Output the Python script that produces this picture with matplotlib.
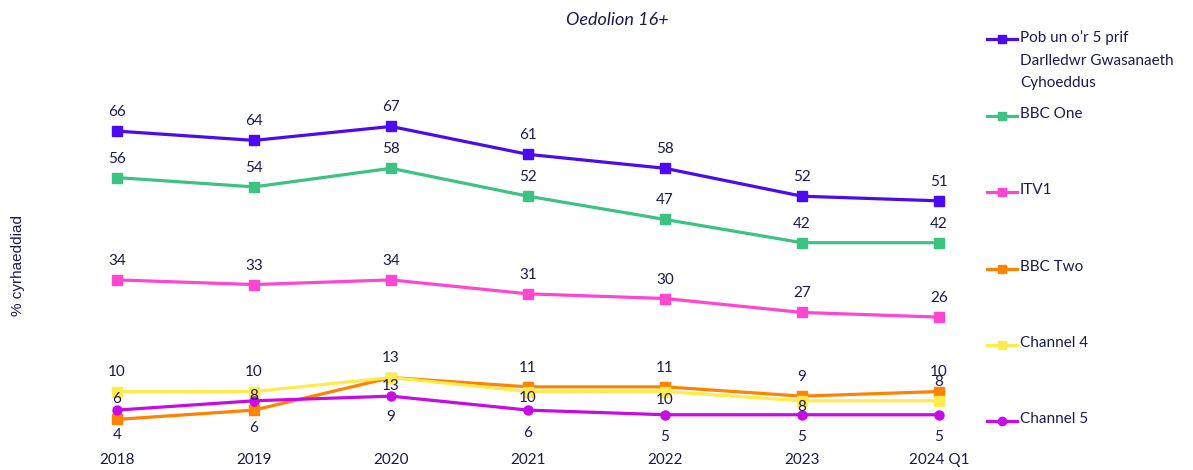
import matplotlib.pyplot as plt
from matplotlib.lines import Line2D

years = ["2018", "2019", "2020", "2021", "2022", "2023", "2024 Q1"]
names = ["Pob un o\u2019r 5 prif\nDarlledwr Gwasanaeth\nCyhoeddus", "BBC One", "ITV1",
         "BBC Two", "Channel 4", "Channel 5"]
pob_un = [66, 64, 67, 61, 58, 52, 51]
bbc_one = [56, 54, 58, 52, 47, 42, 42]
itv1 = [34, 33, 34, 31, 30, 27, 26]
bbc_two = [4, 6, 13, 11, 11, 9, 10]
channel4 = [10, 10, 13, 10, 10, 8, 8]
channel5 = [6, 8, 9, 6, 5, 5, 5]

series = [pob_un, bbc_one, itv1, bbc_two, channel4, channel5]
colors = ["#4B0AF0", "#3CC382", "#FF46D2", "#FF8200", "#FFEB4B", "#C80AE6"]
markers = ["s", "s", "s", "s", "s", "o"]
# label offsets in pixels (positive = above the point)
offsets = [
    [19] * 7,
    [19] * 7,
    [19] * 7,
    [-16, -18, 20, 19, 19, 19, 19],
    [20, 20, -8, -6, -8, -6, 19],
    [11, 5, -21, -23, -22, -22, -22],
]

navy = "#1B1A4E"
plt.rcParams["font.family"] = ["Lato", "DejaVu Sans"]

W, H = 1193, 470
fig = plt.figure(figsize=(W / 100, H / 100), dpi=100)
ax = fig.add_axes([48.5 / W, 32 / H, 959 / W, 372 / H])

xs = list(range(len(years)))
for vals, col, mk, offs in zip(series, colors, markers, offsets):
    ax.plot(xs, vals, color=col, lw=2.3, marker=mk, ms=6.5, clip_on=False, zorder=3)
    for x, v, o in zip(xs, vals, offs):
        ax.annotate(str(v), (x, v), xytext=(0, o * 0.72), textcoords="offset points",
                    ha="center", va="center", fontsize=11, color=navy, zorder=5)

ax.set_xlim(-0.5, 6.5)
ax.set_ylim(0, 80)
ax.set_xticks(xs)
ax.set_xticklabels(years, fontsize=11, color=navy)
ax.tick_params(axis="x", length=0, pad=11)
ax.set_yticks([])
for s in ax.spines.values():
    s.set_visible(False)

fig.text(617 / W, 1 - 20 / H, "Oedolion 16+", ha="center", va="center",
         fontsize=13, style="italic", color=navy)
fig.text(18 / W, 1 - 265 / H, "% cyrhaeddiad", rotation=90, ha="center", va="center",
         fontsize=11, color=navy, family=["Liberation Sans", "DejaVu Sans"])

# legend on the right
leg_y = [39, 116, 192, 269, 345, 421]
for name, col, mk, y in zip(names, colors, markers, leg_y):
    fy = 1 - y / H
    fig.add_artist(Line2D([987 / W, 1017 / W], [fy, fy], color=col, lw=2.3,
                          transform=fig.transFigure))
    fig.add_artist(Line2D([1002 / W], [fy], color=col, marker=mk, ms=6,
                          transform=fig.transFigure))
    fig.text(1020 / W, 1 - (y - 9) / H, name, ha="left", va="top", fontsize=11,
             color=navy, linespacing=1.8)

fig.savefig("out.png", dpi=100)
